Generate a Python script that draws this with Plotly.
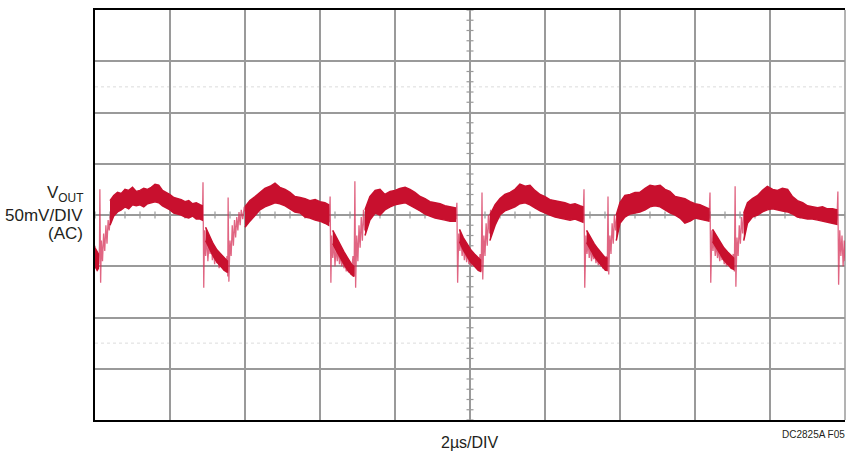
import plotly.graph_objects as go

# ---- data (time in µs, voltage in mV, AC coupled) ----
hump_t = [
    [0.40, 0.50, 0.60, 0.70, 0.80, 0.90, 1.00, 1.10, 1.20, 1.30, 1.40, 1.50, 1.60, 1.70, 1.80, 1.90, 2.00, 2.10, 2.20, 2.30, 2.40, 2.50, 2.60, 2.70, 2.80, 2.86],
    [4.00, 4.13, 4.27, 4.40, 4.53, 4.67, 4.80, 4.93, 5.07, 5.20, 5.33, 5.47, 5.60, 5.73, 5.87, 6.00, 6.13, 6.23],
    [7.20, 7.33, 7.47, 7.60, 7.73, 7.87, 8.00, 8.13, 8.27, 8.40, 8.53, 8.67, 8.80, 8.93, 9.07, 9.20, 9.33, 9.47, 9.61],
    [10.53, 10.67, 10.80, 10.93, 11.07, 11.20, 11.33, 11.47, 11.60, 11.73, 11.87, 12.00, 12.13, 12.27, 12.40, 12.53, 12.67, 12.80, 12.93, 13.01],
    [13.90, 14.00, 14.13, 14.27, 14.40, 14.53, 14.67, 14.80, 14.93, 15.07, 15.20, 15.33, 15.47, 15.60, 15.73, 15.87, 16.00, 16.13, 16.27, 16.37],
    [17.30, 17.40, 17.53, 17.67, 17.80, 17.93, 18.07, 18.20, 18.33, 18.47, 18.60, 18.73, 18.87, 19.00, 19.13, 19.27, 19.40, 19.53, 19.67, 19.78],
]
hump_hi = [
    [14, 19, 22, 21, 25, 24, 27, 23, 24, 26, 25, 27, 30, 29, 24, 22, 20, 17, 16, 15, 13, 14, 11, 12, 10, 9],
    [8, 14, 18, 22, 26, 28, 31, 27, 25, 22, 18, 17, 16, 14, 15, 13, 12, 10],
    [5, 18, 24, 25, 20, 23, 24, 26, 27, 25, 22, 18, 16, 13, 12, 11, 9, 8, 7],
    [0, 10, 16, 20, 22, 25, 30, 28, 29, 24, 20, 18, 15, 14, 13, 12, 10, 11, 9, 8],
    [0, 12, 19, 20, 22, 22, 26, 29, 28, 29, 25, 23, 18, 17, 16, 13, 11, 10, 8, 6],
    [2, 12, 16, 19, 24, 28, 25, 24, 26, 25, 18, 14, 12, 9, 8, 7, 8, 6, 6, 5],
]
hump_lo = [
    [-10, -1, 3, 5, 8, 6, 10, 9, 10, 8, 11, 12, 13, 12, 9, 7, 5, 2, 1, 0, -2, -3, -1, -4, -4, -5],
    [-12, -6, 0, 5, 8, 10, 12, 11, 9, 6, 3, 2, -2, -3, -5, -6, -8, -10],
    [-20, -5, 2, 0, 5, 8, 10, 11, 12, 10, 7, 4, 1, -1, -3, -4, -5, -6, -6],
    [-25, -10, 0, 4, 6, 8, 11, 12, 10, 7, 4, 2, 0, -2, -3, -4, -5, -4, -6, -7],
    [-25, -8, -2, 1, 2, 3, 5, 8, 9, 8, 5, 2, 0, -3, -8, -6, -3, -4, -5, -6],
    [-25, -8, -2, 0, 3, 5, 6, 5, 4, 3, 1, -2, -3, -4, -4, -5, -6, -7, -8, -9],
]

trough_t = [
    [0.00, 0.03, 0.06, 0.09],
    [2.95, 3.05, 3.15, 3.25, 3.35, 3.45, 3.53],
    [6.34, 6.44, 6.54, 6.64, 6.74, 6.84, 6.90],
    [9.72, 9.82, 9.92, 10.02, 10.12, 10.22, 10.28],
    [13.11, 13.21, 13.31, 13.41, 13.51, 13.61, 13.65],
    [16.47, 16.57, 16.67, 16.77, 16.87, 16.97, 17.03],
]
trough_hi = [
    [-32, -34, -36, -38],
    [-12, -20, -28, -34, -38, -42, -45],
    [-15, -22, -30, -36, -42, -48, -50],
    [-14, -22, -28, -34, -38, -42, -44],
    [-15, -22, -28, -33, -38, -42, -42],
    [-14, -20, -26, -32, -36, -40, -42],
]
trough_lo = [
    [-50, -52, -54, -52],
    [-25, -32, -40, -46, -50, -54, -56],
    [-28, -35, -42, -48, -54, -58, -60],
    [-26, -34, -40, -46, -50, -54, -55],
    [-27, -34, -40, -45, -50, -54, -54],
    [-26, -32, -38, -44, -48, -52, -53],
]

edge_t = [
    [0.00, 0.02, 0.04, 0.06, 0.08, 0.10, 0.12, 0.13, 0.15, 0.17, 0.20, 0.23, 0.26, 0.29, 0.32, 0.35, 0.38, 0.41, 0.44],
    [2.85, 2.87, 2.88, 2.90, 2.92, 2.95, 2.98, 3.01, 3.04, 3.07, 3.10, 3.13, 3.16, 3.19, 3.22, 3.25, 3.28, 3.31, 3.34, 3.37, 3.40, 3.43, 3.46, 3.49, 3.52, 3.54, 3.55, 3.57, 3.60, 3.63, 3.66, 3.69, 3.72, 3.75, 3.78, 3.81, 3.84, 3.87, 3.90, 3.94, 3.98, 4.02],
    [6.22, 6.25, 6.27, 6.29, 6.31, 6.34, 6.37, 6.40, 6.43, 6.46, 6.49, 6.52, 6.55, 6.58, 6.61, 6.64, 6.67, 6.70, 6.73, 6.76, 6.79, 6.82, 6.85, 6.88, 6.91, 6.93, 6.95, 6.98, 7.01, 7.04, 7.07, 7.10, 7.13, 7.16, 7.19, 7.22, 7.26],
    [9.60, 9.63, 9.65, 9.67, 9.70, 9.73, 9.76, 9.79, 9.82, 9.85, 9.88, 9.91, 9.94, 9.97, 10.00, 10.03, 10.06, 10.09, 10.12, 10.15, 10.18, 10.21, 10.24, 10.27, 10.30, 10.32, 10.34, 10.37, 10.40, 10.43, 10.46, 10.49, 10.52, 10.55, 10.58, 10.62],
    [13.00, 13.02, 13.04, 13.06, 13.09, 13.12, 13.15, 13.18, 13.21, 13.24, 13.27, 13.30, 13.33, 13.36, 13.39, 13.42, 13.45, 13.48, 13.51, 13.54, 13.57, 13.60, 13.63, 13.66, 13.68, 13.70, 13.73, 13.76, 13.79, 13.82, 13.85, 13.88, 13.92, 13.96],
    [16.36, 16.38, 16.40, 16.42, 16.45, 16.48, 16.51, 16.54, 16.57, 16.60, 16.63, 16.66, 16.69, 16.72, 16.75, 16.78, 16.81, 16.84, 16.87, 16.90, 16.93, 16.96, 16.99, 17.02, 17.05, 17.07, 17.09, 17.12, 17.15, 17.18, 17.21, 17.24, 17.27, 17.30, 17.34],
    [19.77, 19.79, 19.81, 19.83, 19.86, 19.89, 19.92, 19.95, 19.98, 20.00],
]
edge_v = [
    [-30, -52, -35, -55, -38, -48, -30, 25, -66, -25, -45, -18, -35, -10, -28, -5, -15, 0, -5],
    [-3, 8, 32, -71, -15, -40, -20, -45, -28, -38, -25, -44, -32, -48, -36, -47, -40, -52, -42, -50, -45, -54, -46, -52, -40, -60, 17, -65, -25, -40, -10, -30, -5, -22, -2, -15, 3, -10, 5, -4, 8, 2],
    [-8, -5, 18, -66, -20, -42, -25, -50, -30, -45, -33, -48, -38, -50, -42, -52, -45, -55, -48, -56, -50, -58, -52, -40, -60, 33, -71, -20, -45, -10, -32, -2, -25, 5, -15, 2, -5],
    [-6, -2, 12, -66, -18, -35, -22, -40, -28, -44, -32, -46, -36, -48, -40, -50, -42, -47, -44, -51, -46, -53, -48, -38, -55, 22, -63, -20, -40, -8, -30, 0, -18, 5, -8, 0],
    [-7, 0, 25, -71, -20, -38, -25, -42, -30, -45, -35, -43, -38, -47, -40, -49, -43, -50, -45, -52, -47, -50, -40, -55, 18, -58, -20, -38, -8, -28, 0, -15, 2, -5],
    [-6, 2, 22, -66, -15, -35, -22, -40, -28, -42, -33, -45, -36, -44, -40, -48, -42, -50, -44, -48, -46, -52, -47, -38, -55, 28, -70, -22, -40, -10, -28, -2, -18, 2, -8],
    [-7, 0, 23, -68, -15, -40, -20, -50, -25, -45],
]

# ---- axis setup: 10 x 8 divisions, 2 µs/DIV, 50 mV/DIV ----
T_RANGE = [0, 20]
V_RANGE = [-200, 200]
T_DIV = 2
V_DIV = 50

TRACE = "rgb(200,16,46)"
EDGE = "rgba(214,50,88,0.75)"
GRID = "#9a9a9a"
TXT = "#231f20"
FONT = "Liberation Sans, Arial, sans-serif"

fig = go.Figure()

# graticule minor ticks along the centre lines
mt = [T_RANGE[0] + i * T_DIV / 5 for i in range(int((T_RANGE[1] - T_RANGE[0]) / (T_DIV / 5)) + 1)]
mv = [V_RANGE[0] + i * V_DIV / 5 for i in range(int((V_RANGE[1] - V_RANGE[0]) / (V_DIV / 5)) + 1)]
fig.add_trace(go.Scatter(x=mt, y=[0] * len(mt), mode="markers",
                         marker=dict(symbol="line-ns", size=5, line=dict(color=GRID, width=1.2)),
                         hoverinfo="skip", showlegend=False))
fig.add_trace(go.Scatter(x=[10] * len(mv), y=mv, mode="markers",
                         marker=dict(symbol="line-ew", size=5, line=dict(color=GRID, width=1.2)),
                         hoverinfo="skip", showlegend=False))

# fast transition edges (lighter, thin)
for t, v in zip(edge_t, edge_v):
    fig.add_trace(go.Scatter(x=t, y=v, mode="lines", line=dict(color=EDGE, width=1.3),
                             hoverinfo="skip", showlegend=False))

# dense trace bands
for t, hi, lo in list(zip(trough_t, trough_hi, trough_lo)) + list(zip(hump_t, hump_hi, hump_lo)):
    fig.add_trace(go.Scatter(x=t + t[::-1], y=hi + lo[::-1], mode="lines", fill="toself",
                             fillcolor=TRACE, line=dict(color=TRACE, width=1.5),
                             hoverinfo="skip", showlegend=False))

# faint dotted reference lines
for yv in (125, -125):
    fig.add_shape(type="line", xref="x", yref="y", x0=T_RANGE[0], x1=T_RANGE[1], y0=yv, y1=yv,
                  line=dict(color="#dcdcdc", width=1, dash="dot"), layer="below")

fig.update_xaxes(range=T_RANGE, dtick=T_DIV, tick0=0, showgrid=True, gridcolor=GRID, gridwidth=1.5,
                 showline=True, linecolor="black", linewidth=2, mirror=True,
                 showticklabels=False, ticks="", zeroline=False, fixedrange=True)
fig.update_yaxes(range=V_RANGE, dtick=V_DIV, tick0=0, showgrid=True, gridcolor=GRID, gridwidth=1.5,
                 showline=True, linecolor="black", linewidth=2, mirror=False,
                 showticklabels=False, ticks="", zeroline=False, fixedrange=True)

# right border of graticule (grey)
fig.add_shape(type="line", xref="paper", yref="paper", x0=1, x1=1, y0=0, y1=1,
              line=dict(color=GRID, width=1.5), layer="below")

ann = [
    dict(text="V<sub>OUT</sub>", x=-0.0135, y=0.551, size=17, xa="right"),
    dict(text="50mV/DIV", x=-0.0135, y=0.500, size=17, xa="right"),
    dict(text="(AC)", x=-0.0135, y=0.455, size=17, xa="right"),
    dict(text="2µs/DIV", x=0.5, y=-0.054, size=16, xa="center"),
]
for a in ann:
    fig.add_annotation(text=a["text"], x=a["x"], y=a["y"], xref="paper", yref="paper",
                       xanchor=a["xa"], yanchor="middle", showarrow=False,
                       font=dict(family=FONT, size=a["size"], color=TXT))
fig.add_annotation(text="DC2825A F05", x=1.0027, y=-0.035, xref="paper", yref="paper",
                   xanchor="right", yanchor="middle", showarrow=False,
                   font=dict(family="Liberation Sans Narrow, Arial Narrow, Liberation Sans, sans-serif", size=10, color=TXT))

fig.update_layout(width=847, height=453, margin=dict(l=95, r=2, t=10, b=33),
                  paper_bgcolor="white", plot_bgcolor="white", showlegend=False)

fig.write_html("out.html")
